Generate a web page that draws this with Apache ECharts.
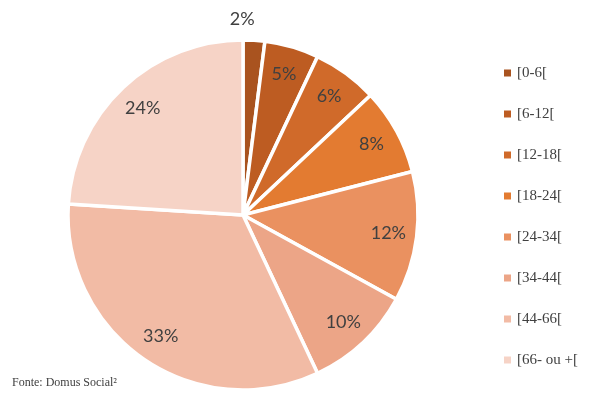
<!DOCTYPE html>
<html>
<head>
<meta charset="utf-8">
<script src="https://cdn.jsdelivr.net/npm/echarts@6/dist/echarts.min.js"></script>
<style>
  html, body { margin: 0; padding: 0; background: #fff; }
  #chart { width: 589px; height: 394px; }
</style>
</head>
<body>
<div id="chart"></div>
<script>
// faixas etárias e percentagens
const categories = ['[0-6[', '[6-12[', '[12-18[', '[18-24[', '[24-34[', '[34-44[', '[44-66[', '[66- ou +['];
const values = [2, 5, 6, 8, 12, 10, 33, 24];
const colors = ['#a9531f', '#bd5c22', '#d06a2a', '#e37b31', '#ea9160', '#eca587', '#f2bba5', '#f6d3c6'];
const sourceNote = 'Fonte: Domus Social\u00b2';

const chart = echarts.init(document.getElementById('chart'));

const pieData = categories.map((name, i) => ({
  name: name,
  value: values[i],
  itemStyle: { color: colors[i] }
}));

// anel transparente só para posicionar as etiquetas
const labelData = values.map((v, i) => {
  const item = { value: v };
  if (i === 0) item.label = { offset: [-10, -50] };
  return item;
});

chart.setOption({
  animation: false,
  legend: {
    orient: 'vertical',
    left: 497,
    top: 60,
    itemWidth: 9,
    itemHeight: 9,
    itemGap: 25,
    icon: 'rect',
    data: categories,
    textStyle: {
      fontFamily: 'Liberation Serif',
      fontSize: 15,
      lineHeight: 16,
      color: '#404040'
    }
  },
  graphic: [{
    type: 'text',
    left: 12,
    top: 377,
    style: {
      text: sourceNote,
      font: '12px "Liberation Serif"',
      fill: '#404040'
    }
  }],
  series: [
    {
      type: 'pie',
      center: [243, 215],
      radius: [0, 175],
      startAngle: 90,
      clockwise: true,
      label: { show: false },
      labelLine: { show: false },
      itemStyle: { borderColor: '#fff', borderWidth: 3.5 },
      emphasis: { disabled: true },
      data: pieData
    },
    {
      type: 'pie',
      center: [243, 215],
      radius: [112, 175],
      startAngle: 90,
      clockwise: true,
      silent: true,
      legendHoverLink: false,
      itemStyle: { color: 'rgba(0,0,0,0)', borderWidth: 0 },
      label: {
        show: true,
        position: 'inside',
        formatter: '{c}%',
        fontFamily: 'Lato',
        fontSize: 18,
        color: '#404040'
      },
      labelLine: { show: false },
      emphasis: { disabled: true },
      data: labelData
    }
  ]
});
</script>
</body>
</html>
